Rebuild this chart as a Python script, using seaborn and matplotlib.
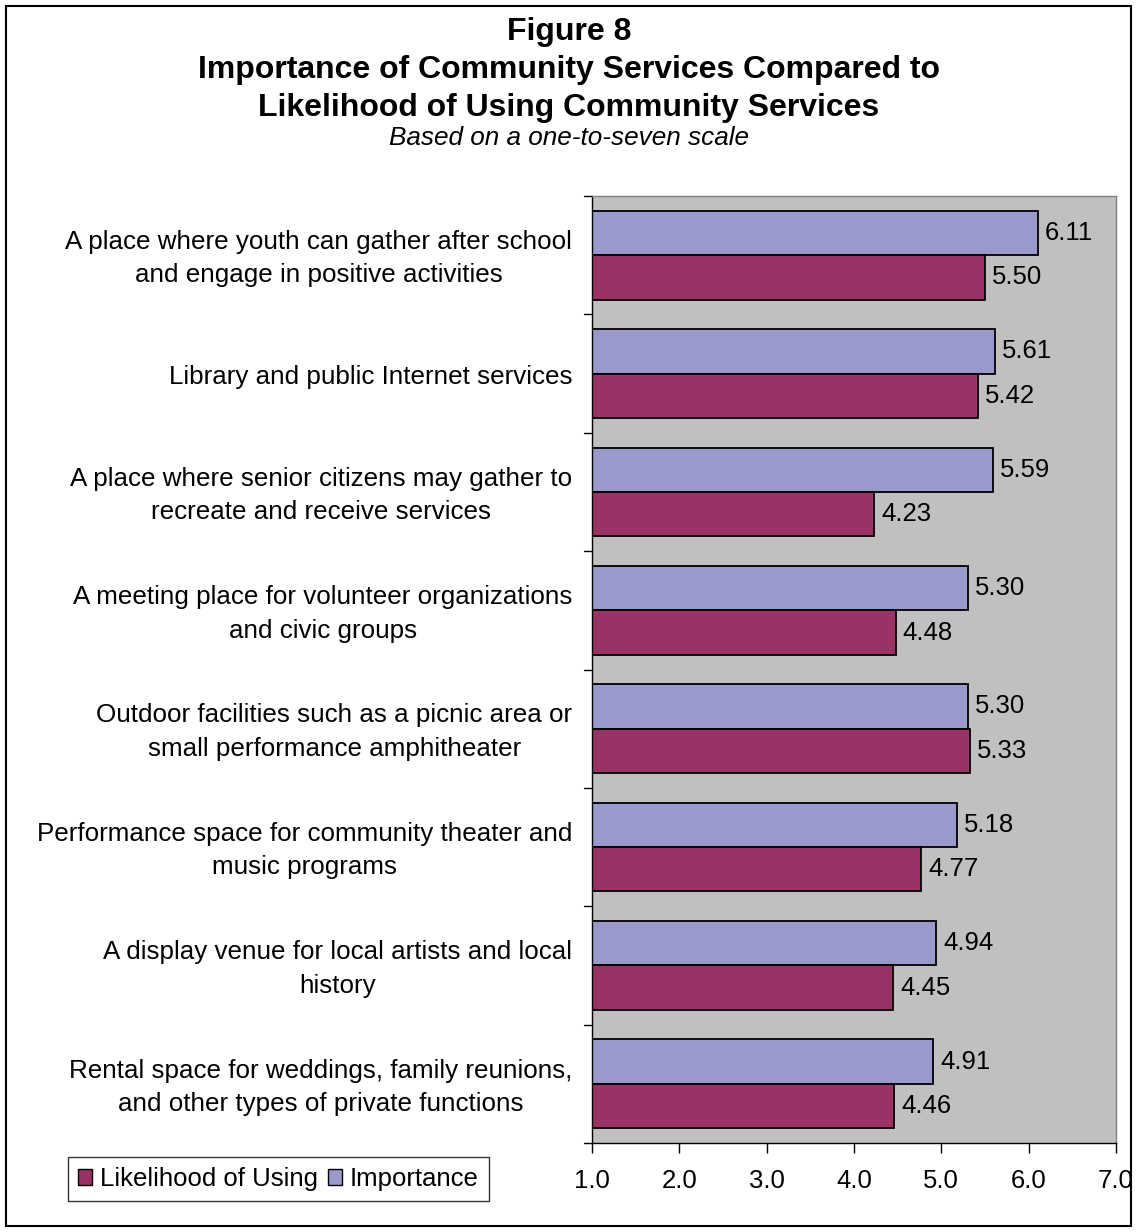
import matplotlib
matplotlib.use("Agg")
import matplotlib.pyplot as plt
from matplotlib.patches import Patch, Rectangle
import seaborn as sns
import pandas as pd

categories = [
    "A place where youth can gather after school\nand engage in positive activities",
    "Library and public Internet services",
    "A place where senior citizens may gather to\nrecreate and receive services",
    "A meeting place for volunteer organizations\nand civic groups",
    "Outdoor facilities such as a picnic area or\nsmall performance amphitheater",
    "Performance space for community theater and\nmusic programs",
    "A display venue for local artists and local\nhistory",
    "Rental space for weddings, family reunions,\nand other types of private functions",
]
importance = [6.11, 5.61, 5.59, 5.30, 5.30, 5.18, 4.94, 4.91]
likelihood = [5.50, 5.42, 4.23, 4.48, 5.33, 4.77, 4.45, 4.46]
series_names = ["Importance", "Likelihood of Using"]
x_ticks = [1.0, 2.0, 3.0, 4.0, 5.0, 6.0, 7.0]

colors = {"Importance": "#9999CC", "Likelihood of Using": "#993366"}

df = pd.DataFrame({
    "category": categories * 2,
    "series": [series_names[0]] * len(categories) + [series_names[1]] * len(categories),
    "value": importance + likelihood,
})

sns.set_theme(style="white")
plt.rcParams["font.family"] = ["Liberation Sans", "DejaVu Sans"]
plt.rcParams["text.color"] = "black"
plt.rcParams["xtick.color"] = "black"
plt.rcParams["xtick.labelcolor"] = "black"

FS = 18.5

W, H = 1138, 1232
fig = plt.figure(figsize=(W / 100, H / 100), dpi=100)
ax = fig.add_axes([592 / W, 1 - 1143 / H, (1116 - 592) / W, (1143 - 196) / H])

sns.barplot(data=df, y="category", x="value", hue="series", hue_order=series_names,
            palette=colors, orient="h", width=0.75, edgecolor="black", linewidth=1.3,
            saturation=1, ax=ax, legend=False)

ax.set_facecolor("#C0C0C0")
ax.set_xlim(1.0, 7.0)
ax.set_xticks(x_ticks)
ax.set_xticklabels([f"{t:.1f}" for t in x_ticks], fontsize=FS)
ax.set_xlabel("")
ax.set_ylabel("")

# category labels drawn centered in the left margin
ax.set_yticks([])
n = len(categories)
ax.set_ylim(n - 0.5, -0.5)
for i, lab in enumerate(categories):
    ax.text(-0.0375, i + 0.03, lab, transform=ax.get_yaxis_transform(), ha="right",
            va="center", fontsize=18.7, multialignment="center", linespacing=1.5)
# group separator ticks on the left spine
for b in [k - 0.5 for k in range(n + 1)]:
    ax.plot([-0.016, 0], [b, b], transform=ax.get_yaxis_transform(), color="black",
            lw=1, clip_on=False)

ax.tick_params(axis="x", direction="out", length=7, width=1, color="black", pad=12, bottom=True)
for s in ["left", "bottom"]:
    ax.spines[s].set_color("black")
    ax.spines[s].set_linewidth(1)
for s in ["top", "right"]:
    ax.spines[s].set_color("#808080")
    ax.spines[s].set_linewidth(1)

# value labels
for container in ax.containers:
    ax.bar_label(container, fmt="%.2f", padding=5, fontsize=FS)

# titles
fig.text(0.5, 1 - 32 / H, "Figure 8", ha="center", va="center", fontsize=23, fontweight="bold")
fig.text(0.5, 1 - 70 / H, "Importance of Community Services Compared to", ha="center",
         va="center", fontsize=23, fontweight="bold")
fig.text(0.5, 1 - 108 / H, "Likelihood of Using Community Services", ha="center",
         va="center", fontsize=23, fontweight="bold")
fig.text(0.5, 1 - 138 / H, "Based on a one-to-seven scale", ha="center", va="center",
         fontsize=18.8, style="italic")

# legend
handles = [Patch(facecolor=colors[s], edgecolor="black", linewidth=1) for s in series_names[::-1]]
leg = fig.legend(handles, series_names[::-1], loc="center", ncol=2,
                 bbox_to_anchor=(278.5 / W, 1 - 1179 / H), fontsize=FS, frameon=True,
                 handlelength=0.55, handleheight=0.55, handletextpad=0.3, columnspacing=0.4,
                 borderpad=0.4, borderaxespad=0, fancybox=False)
leg.get_frame().set_edgecolor("black")
leg.get_frame().set_linewidth(1)

# outer border
fig.patches.append(Rectangle((6 / W, 6 / H), 1 - 13 / W, 1 - 12 / H, transform=fig.transFigure,
                             fill=False, edgecolor="black", linewidth=1.5))

fig.savefig("out.png", dpi=100, facecolor="white")
